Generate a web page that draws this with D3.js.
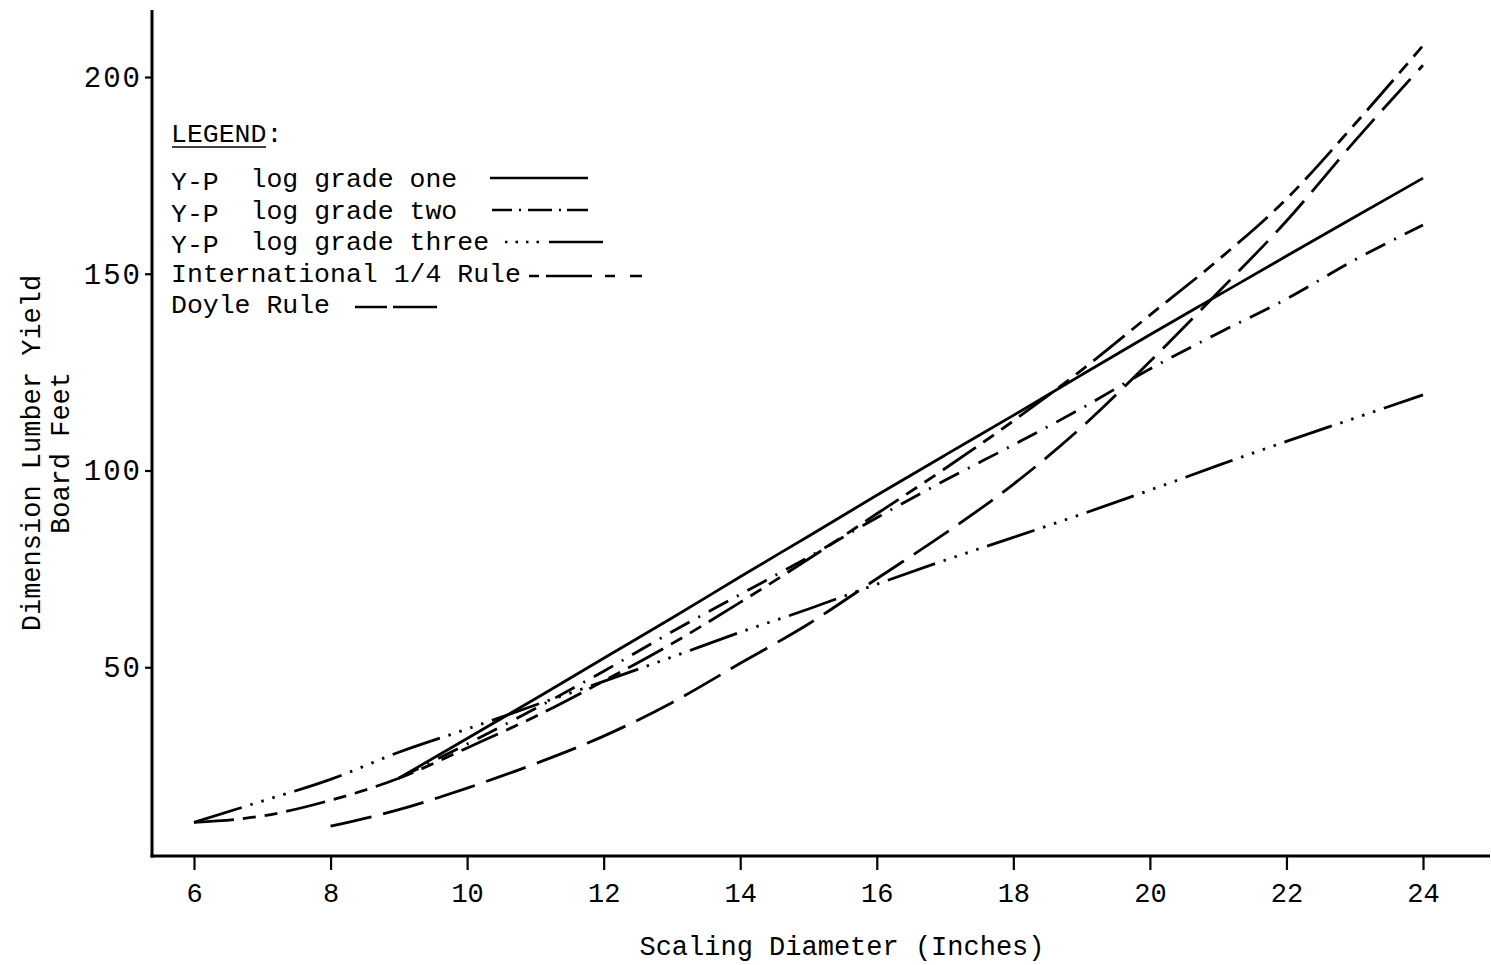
<!DOCTYPE html>
<html>
<head>
<meta charset="utf-8">
<script src="https://cdn.jsdelivr.net/npm/d3@7"></script>
<style>
  html, body { margin: 0; padding: 0; background: #fff; }
  svg { display: block; background: #fff; }
  text { font-family: "Liberation Mono", "DejaVu Sans Mono", monospace; fill: #000; }
</style>
</head>
<body>
<svg id="chart" width="1491" height="965"></svg>
<script>
// Scaling diameter (inches) for each series
const diametersFrom6 = [6, 7, 8, 9, 10, 11, 12, 13, 14, 15, 16, 17, 18, 19, 20, 21, 22, 23, 24];
const diametersFrom8 = [8, 9, 10, 11, 12, 13, 14, 15, 16, 17, 18, 19, 20, 21, 22, 23, 24];
const diametersFrom9 = [9, 10, 11, 12, 13, 14, 15, 16, 17, 18, 19, 20, 21, 22, 23, 24];

// Dimension lumber yield, board feet
const gradeOneYield = [21.8, 31.9, 42, 52.3, 62.5, 73, 83.3, 93.7, 103.9, 114, 124.3, 134.5, 144.5, 154.5, 164.4, 174.3];
const gradeTwoYield = [21.8, 30.5, 39.5, 49, 59, 68.5, 78, 88, 97.5, 106.5, 115.8, 125.8, 134.9, 143.6, 153.5, 162.4];
const gradeThreeYield = [10.6, 16, 21.5, 28.4, 34.3, 40.4, 46.4, 52.6, 58.9, 64.8, 71.1, 77.2, 83, 88.9, 95, 101.3, 107.4, 113.3, 119.2];
const internationalYield = [10.6, 12.2, 16.2, 21.8, 29.5, 37.5, 46.5, 56, 66.5, 77.5, 89, 100.5, 112.6, 125.5, 139.5, 153.5, 169, 188, 208];
const doyleYield = [9.6, 13.8, 19.3, 25.5, 32.5, 41, 51, 61, 72.5, 84, 96.5, 111, 127.7, 145.3, 163.4, 183.7, 203];

// Axis ticks and labels
const xTickValues = [6, 8, 10, 12, 14, 16, 18, 20, 22, 24];
const yTickValues = [50, 100, 150, 200];
const legendTitle = "LEGEND:";
const seriesLabels = [
  ["Y-P", "  log grade one"],
  ["Y-P", "  log grade two"],
  ["Y-P", "  log grade three"],
  ["", "International 1/4 Rule"],
  ["", "Doyle Rule"]
];
const xAxisTitle = "Scaling Diameter (Inches)";
const yAxisTitle = ["Dimension Lumber Yield", "Board Feet"];

// ---- drawing ----
const svg = d3.select("#chart");
const plotLeft = 152, plotRight = 1490, plotTop = 10, plotBottom = 856;

const x = d3.scaleLinear().domain([6, 24]).range([194, 1423]);
const y = d3.scaleLinear().domain([0, 200]).range([864, 77]);

const series = [
  { xs: diametersFrom9, ys: gradeOneYield, dash: null },
  { xs: diametersFrom9, ys: gradeTwoYield, dash: "22,10,2,10" },
  { xs: diametersFrom6, ys: gradeThreeYield, dash: "50,9,2.5,9,2.5,9,2.5,9,2.5,9" },
  { xs: diametersFrom6, ys: internationalYield, dash: "40,9,13,9,13,9" },
  { xs: diametersFrom8, ys: doyleYield, dash: "42,12" }
];

const line = d3.line()
  .x(d => x(d[0]))
  .y(d => y(d[1]))
  .curve(d3.curveMonotoneX);

const curves = svg.append("g").attr("fill", "none").attr("stroke", "#000")
  .attr("stroke-width", 2.8).attr("stroke-linecap", "butt");
series.forEach(s => {
  curves.append("path")
    .attr("d", line(s.xs.map((d, i) => [d, s.ys[i]])))
    .attr("stroke-dasharray", s.dash);
});

// x axis
const gx = svg.append("g")
  .attr("transform", `translate(0,${plotBottom})`)
  .call(d3.axisBottom(x).tickValues(xTickValues).tickSize(14).tickFormat(d3.format("d")));
gx.select(".domain").remove();
gx.selectAll(".tick line").attr("stroke", "#000").attr("stroke-width", 2.2);
gx.selectAll(".tick text").attr("y", 46).attr("dy", 0).style("font-size", "27px");

// y axis
const gy = svg.append("g")
  .attr("transform", `translate(${plotLeft},0)`)
  .call(d3.axisLeft(y).tickValues(yTickValues).tickSize(7).tickPadding(5).tickFormat(d3.format("d")));
gy.select(".domain").remove();
gy.selectAll(".tick line").attr("stroke", "#000").attr("stroke-width", 2.2);
gy.selectAll(".tick text").style("font-size", "29px").style("letter-spacing", "2px").attr("dx", 2);

// axis frame lines
svg.append("line").attr("x1", plotLeft).attr("x2", plotLeft).attr("y1", plotTop).attr("y2", plotBottom + 1.5)
  .attr("stroke", "#000").attr("stroke-width", 3);
svg.append("line").attr("x1", plotLeft - 1.5).attr("x2", plotRight).attr("y1", plotBottom).attr("y2", plotBottom)
  .attr("stroke", "#000").attr("stroke-width", 3);

// axis titles
svg.append("text").attr("x", 842).attr("y", 955).attr("text-anchor", "middle")
  .style("font-size", "27px").text(xAxisTitle);
yAxisTitle.forEach((t, i) => {
  svg.append("text")
    .attr("transform", `translate(${40 + i * 29},453) rotate(-90)`)
    .attr("text-anchor", "middle")
    .style("font-size", "27px").text(t);
});

// legend
const legend = svg.append("g");
legend.append("text").attr("x", 171).attr("y", 142).style("font-size", "26.5px").text(legendTitle);
legend.append("line").attr("x1", 172).attr("x2", 266).attr("y1", 147).attr("y2", 147)
  .attr("stroke", "#000").attr("stroke-width", 1.6);

const rowBaselines = [187, 219, 250, 282, 313];
seriesLabels.forEach((lab, i) => {
  const t = legend.append("text").attr("x", 171).attr("y", rowBaselines[i]).style("font-size", "26.5px")
    .attr("xml:space", "preserve").style("white-space", "pre");
  if (lab[0]) t.append("tspan").attr("dy", 3).text(lab[0]);
  t.append("tspan").attr("dy", lab[0] ? -3 : 0).text(lab[1]);
});

// legend key strokes
const keys = [
  { x1: 490, x2: 588, y: 178, dash: null },
  { x1: 492, x2: 588, y: 210, dash: "20,7,2,7,24,7,2,6,30" },
  { x1: 505, x2: 603, y: 242, dash: "2.5,8,2.5,8,2.5,8,2.5,10,60" },
  { x1: 529, x2: 642, y: 276, dash: "10,7,46,13,10,15,12,20" },
  { x1: 355, x2: 437, y: 307, dash: "32,6,44,10" }
];
keys.forEach(k => {
  legend.append("line").attr("x1", k.x1).attr("x2", k.x2).attr("y1", k.y).attr("y2", k.y)
    .attr("stroke", "#000").attr("stroke-width", 2.6).attr("stroke-dasharray", k.dash);
});
</script>
</body>
</html>
